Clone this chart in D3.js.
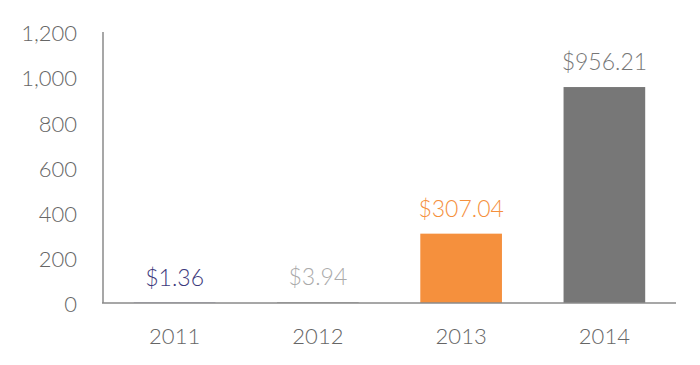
<!DOCTYPE html>
<html><head><meta charset="utf-8">
<script src="https://cdn.jsdelivr.net/npm/d3@7"></script>
<style>
html,body{margin:0;padding:0;background:#fff;}
text{font-family:Lato,"Open Sans",sans-serif;font-weight:300;}
</style></head>
<body><svg id="chart" width="700" height="365"></svg>
<script>
const years = ["2011","2012","2013","2014"];
const values = [1.36, 3.94, 307.04, 956.21];
const valueLabels = ["$1.36","$3.94","$307.04","$956.21"];
const barColors = ["#3d3a7c","#b0b0b0","#f5903d","#777777"];
const labelColors = ["#3d3a7c","#aaaaaa","#f5903d","#777777"];
const yTicks = [0,200,400,600,800,1000,1200];

const svg = d3.select("#chart");
const x = d3.scaleBand().domain(years).range([103,676]).paddingInner(0.43).paddingOuter(0.215);
const y = d3.scaleLinear().domain([0,1200]).range([303,32]);

// y axis
const yAxis = d3.axisLeft(y).tickValues(yTicks).tickSize(0).tickPadding(26).tickFormat(d3.format(","));
const gy = svg.append("g").attr("transform","translate(103,0)").call(yAxis);
gy.select(".domain").remove();
gy.selectAll("text").attr("font-size",22).attr("fill","#666666").attr("dy","0.4em")
  .style("font-family","Lato,'Open Sans',sans-serif");

// bars
svg.selectAll("rect.bar").data(values).join("rect")
  .attr("class","bar")
  .attr("x",(d,i)=>x(years[i]))
  .attr("width",x.bandwidth())
  .attr("y",d=>y(d))
  .attr("height",d=>y(0)-y(d))
  .attr("fill",(d,i)=>barColors[i]);

// axis lines
svg.append("line").attr("x1",103).attr("x2",103).attr("y1",y(1200)).attr("y2",y(0)).attr("stroke","#8a8a8a").attr("stroke-width",1.5);
svg.append("line").attr("x1",102).attr("x2",676).attr("y1",y(0)).attr("y2",y(0)).attr("stroke","#8a8a8a").attr("stroke-width",1.5);

// x labels
const xAxis = d3.axisBottom(x).tickSize(0).tickPadding(25);
const gx = svg.append("g").attr("transform",`translate(0,${y(0)})`).call(xAxis);
gx.select(".domain").remove();
gx.selectAll("text").attr("font-size",22).attr("fill","#666666")
  .style("font-family","Lato,'Open Sans',sans-serif");

// value labels
svg.selectAll("text.val").data(values).join("text")
  .attr("class","val")
  .attr("x",(d,i)=>x(years[i])+x.bandwidth()/2)
  .attr("y",d=>y(d)-17)
  .attr("text-anchor","middle")
  .attr("font-size",23)
  .attr("fill",(d,i)=>labelColors[i])
  .text((d,i)=>valueLabels[i]);
</script></body></html>
